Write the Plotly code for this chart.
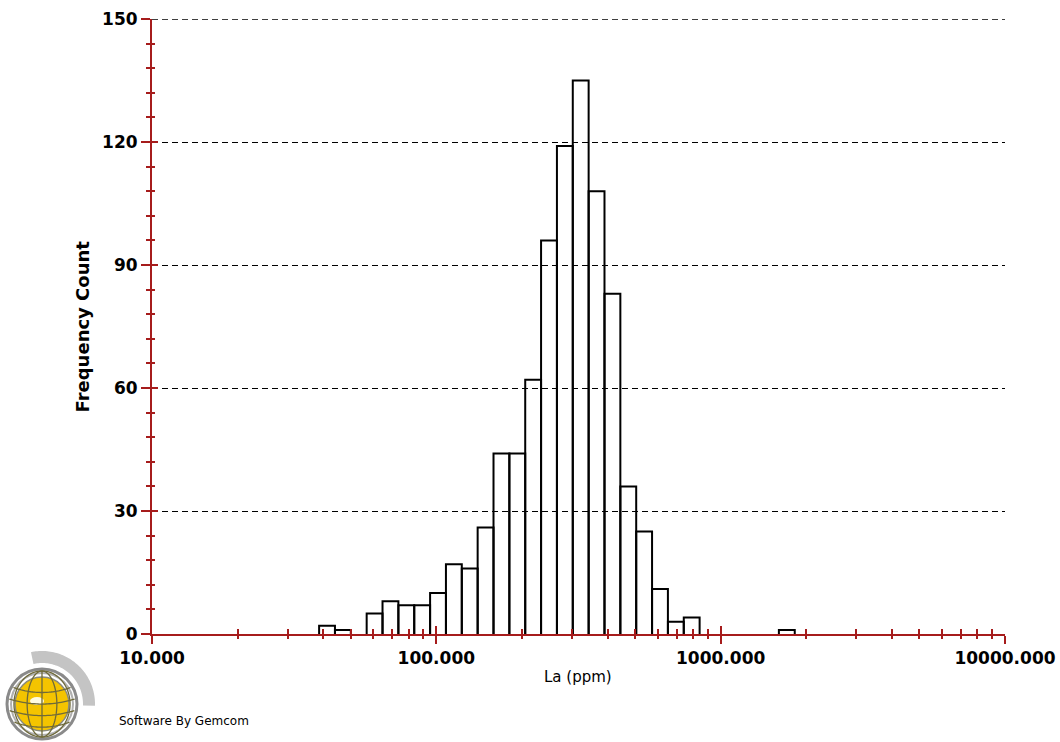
import numpy as np
import plotly.graph_objects as go

# Histogram of La (ppm) with log-spaced bins
la_min = 38.7          # lower edge of the first bin (ppm)
la_max = 1822.0        # upper edge of the last bin (ppm)
n_bins = 30
counts = [2, 1, 0, 5, 8, 7, 7, 10, 17, 16, 26, 44, 44, 62, 96,
          119, 135, 108, 83, 36, 25, 11, 3, 4, 0, 0, 0, 0, 0, 1]

x_major_vals = [10, 100, 1000, 10000]
x_major_text = ["10.000", "100.000", "1000.000", "10000.000"]
y_major_vals = [0, 30, 60, 90, 120, 150]

AXIS_RED = "#a61c1c"
FONT = "DejaVu Sans"
GRID_DASH = "6px,4px"

W, H = 1060, 742
L, R, T, B = 152, 55, 19, 108

edges = np.logspace(np.log10(la_min), np.log10(la_max), n_bins + 1)

# Open-bottom outlines for each non-empty bin
bx, by = [], []
for lo, hi, c in zip(edges[:-1], edges[1:], counts):
    if c <= 0:
        continue
    bx += [lo, lo, hi, hi, None]
    by += [0, c, c, 0, None]

fig = go.Figure()
fig.add_trace(go.Scatter(
    x=bx, y=by, mode="lines",
    line=dict(color="black", width=2),
    hoverinfo="skip", showlegend=False, cliponaxis=False,
))
# carrier trace for the overlay axes that draw the inner half of the ticks
fig.add_trace(go.Scatter(
    x=[100], y=[0], xaxis="x2", yaxis="y2", mode="markers",
    marker=dict(opacity=0), hoverinfo="skip", showlegend=False,
))

x_minor_vals = [m * 10 ** k for k in (1, 2, 3) for m in range(2, 10)]

fig.update_layout(
    width=W, height=H,
    margin=dict(l=L, r=R, t=T, b=B, autoexpand=False),
    paper_bgcolor="white", plot_bgcolor="white",
    font=dict(family=FONT, color="black"),
    showlegend=False,
    xaxis=dict(
        type="log", range=[1, 4], automargin=False,
        tickmode="array", tickvals=x_major_vals, ticktext=x_major_text,
        ticks="outside", ticklen=8, tickwidth=1.5, tickcolor=AXIS_RED,
        tickfont=dict(family=FONT, size=17, color="black", weight="bold"),
        minor=dict(tickmode="array", tickvals=x_minor_vals, ticks="outside",
                   ticklen=3, tickwidth=1.5, tickcolor=AXIS_RED, showgrid=False),
        showline=True, linecolor=AXIS_RED, linewidth=2,
        showgrid=False, zeroline=False,
    ),
    xaxis2=dict(
        type="log", range=[1, 4], overlaying="x", anchor="y", side="bottom",
        automargin=False,
        tickmode="array", tickvals=x_major_vals,
        ticks="inside", ticklen=8, tickwidth=1.5, tickcolor=AXIS_RED,
        showticklabels=False,
        minor=dict(tickmode="array", tickvals=x_minor_vals, ticks="inside",
                   ticklen=5, tickwidth=1.5, tickcolor=AXIS_RED, showgrid=False),
        showline=False, showgrid=False, zeroline=False,
    ),
    yaxis=dict(
        range=[0, 150], automargin=False,
        tickmode="array", tickvals=y_major_vals,
        ticks="outside", ticklen=9, tickwidth=1.5, tickcolor=AXIS_RED,
        tickfont=dict(family=FONT, size=17, color="black", weight="bold"),
        minor=dict(tick0=0, dtick=6, ticks="outside", ticklen=4,
                   tickwidth=1.5, tickcolor=AXIS_RED, showgrid=False),
        showline=True, linecolor=AXIS_RED, linewidth=2,
        showgrid=True, gridcolor="black", gridwidth=1.4, griddash=GRID_DASH,
        zeroline=False,
    ),
    yaxis2=dict(
        range=[0, 150], overlaying="y", anchor="x", side="left",
        automargin=False,
        tickmode="array", tickvals=y_major_vals,
        ticks="inside", ticklen=6, tickwidth=1.5, tickcolor=AXIS_RED,
        showticklabels=False,
        minor=dict(tick0=0, dtick=6, ticks="inside", ticklen=3,
                   tickwidth=1.5, tickcolor=AXIS_RED, showgrid=False),
        showline=False, showgrid=False, zeroline=False,
    ),
)

# gridline along the top of the value range
fig.add_shape(type="line", xref="paper", yref="y", x0=0, x1=1,
              y0=y_major_vals[-1], y1=y_major_vals[-1],
              line=dict(color="black", width=1.4, dash=GRID_DASH), layer="below")


# pixel -> paper helpers for the titles and the logo
def px(x):
    return (x - L) / (W - L - R)


def py(y):
    return (H - B - y) / (H - B - T)


fig.add_annotation(
    x=px(70), y=py(327), xref="paper", yref="paper", showarrow=False,
    text="Frequency Count", textangle=-90,
    font=dict(family=FONT, size=18, color="black", weight="bold"),
)
fig.add_annotation(
    x=px(578), y=py(688), xref="paper", yref="paper", showarrow=False,
    text="La (ppm)", font=dict(family=FONT, size=15, color="black"),
)
fig.add_annotation(
    x=px(117), y=py(730), xref="paper", yref="paper", showarrow=False,
    xanchor="left", text="Software By Gemcom",
    font=dict(family=FONT, size=12, color="black"),
)

# Gemcom globe logo
cx, cy = 42, 704


def poly_path(pts, close=True):
    s = "M " + " L ".join(f"{px(a):.5f},{py(b):.5f}" for a, b in pts)
    return s + (" Z" if close else "")


# grey swoosh behind the globe
ang = np.radians(np.linspace(-2, 102, 60))
outer = [(cx + 53 * np.cos(t), cy - 53 * np.sin(t)) for t in ang]
inner = [(cx + 41 * np.cos(t), cy - 41 * np.sin(t)) for t in ang[::-1]]
fig.add_shape(type="path", path=poly_path(outer + inner), xref="paper", yref="paper",
              fillcolor="#c4c4c4", line=dict(width=0), layer="above")


def circle(r, fill, lc, lw):
    fig.add_shape(type="circle", xref="paper", yref="paper",
                  x0=px(cx - r), x1=px(cx + r), y0=py(cy + r), y1=py(cy - r),
                  fillcolor=fill, line=dict(color=lc, width=lw), layer="above")


circle(35, "#ffffff", "#8a8a8a", 3)
circle(31, "#ffffff", "#b0b0b0", 2)
circle(27, "#f4c400", "#8a8a7a", 1.5)
fig.add_shape(type="circle", xref="paper", yref="paper",
              x0=px(cx - 12), x1=px(cx + 2), y0=py(cy + 1), y1=py(cy - 7),
              fillcolor="#fffbe0", line=dict(width=0), layer="above")

# meridians and parallels of the globe
grid_col = "#6f6a3a"
tt = np.linspace(-np.pi / 2, np.pi / 2, 40)
for k in (-0.85, -0.45, 0.0, 0.45, 0.85):
    pts = [(cx + 33 * k * np.cos(t), cy + 33 * np.sin(t)) for t in tt]
    fig.add_shape(type="path", path=poly_path(pts, close=False), xref="paper", yref="paper",
                  line=dict(color=grid_col if abs(k) < 0.9 else "#8a8a8a", width=1.3),
                  layer="above")
for lat in (-0.5, -0.15, 0.2, 0.55):
    half = 33 * np.sqrt(1 - lat ** 2)
    xs = np.linspace(-half, half, 30)
    pts = [(cx + x, cy + 33 * lat + 5 * (1 - (x / half) ** 2)) for x in xs]
    fig.add_shape(type="path", path=poly_path(pts, close=False), xref="paper", yref="paper",
                  line=dict(color=grid_col, width=1.3), layer="above")

fig.write_html("out.html")
